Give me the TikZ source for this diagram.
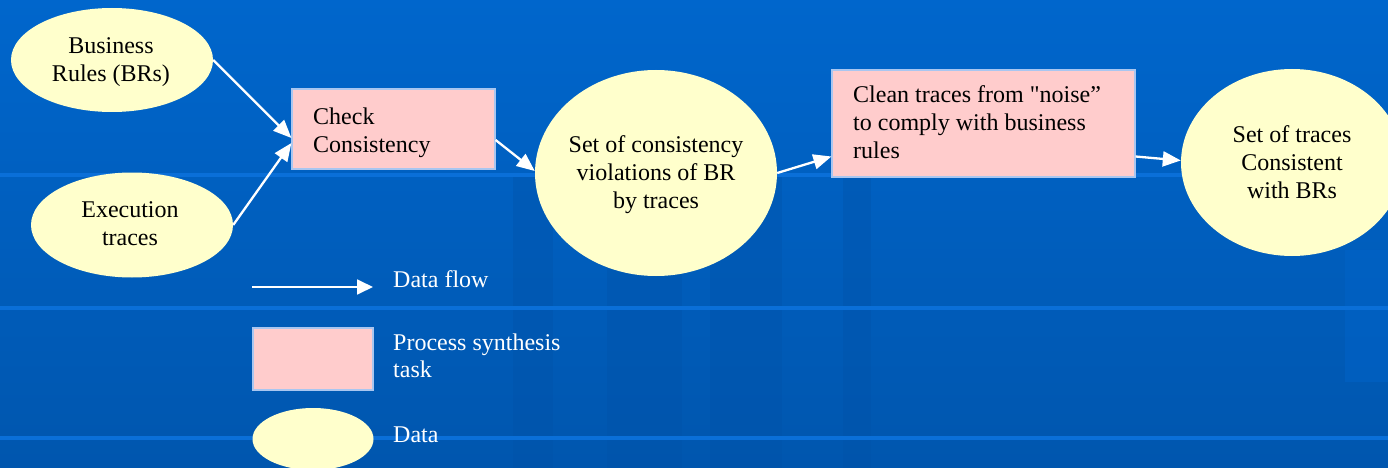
\documentclass[tikz,border=0pt]{standalone}
\usepackage{fontspec}
\setmainfont{Liberation Serif}
\newfontfamily\nomapfont{Liberation Serif}[Ligatures=TeXOff]
\usetikzlibrary{shapes.geometric,arrows.meta,calc}
\definecolor{bgtop}{HTML}{0066CC}
\definecolor{bgbot}{HTML}{0056AE}
\definecolor{hline}{HTML}{0A6FD8}
\definecolor{vdark}{HTML}{0052A8}
\definecolor{vlight}{HTML}{0062C6}
\definecolor{procfill}{HTML}{FFCCCC}
\definecolor{datafill}{HTML}{FFFFCC}
\definecolor{boxline}{HTML}{A9C6F0}
\begin{document}
\begin{tikzpicture}[x=1pt,y=-1pt,
  proc/.style={draw=boxline,line width=1.2pt,fill=procfill,inner sep=0pt},
  datum/.style={ellipse,fill=datafill,inner sep=0pt},
  lbl/.style={font=\fontsize{24}{28}\selectfont,text=black,inner sep=0pt},
  leglbl/.style={font=\fontsize{24}{27}\selectfont,text=white,inner sep=0pt,align=left},
  flow/.style={draw=white,line width=2.3pt,-{Triangle[length=18pt,width=15pt]}},
  legflow/.style={draw=white,line width=1.8pt,-{Triangle[length=16pt,width=15pt]}}
]
\useasboundingbox (0,0) rectangle (1388,468);
\clip (0,0) rectangle (1388,468);
% background
\shade[top color=bgtop,bottom color=bgbot] (0,0) rectangle (1388,468);
\fill[vdark,opacity=0.35] (513,176) rectangle (553,468);
\fill[vdark,opacity=0.35] (607,176) rectangle (682,468);
\fill[vdark,opacity=0.35] (710,176) rectangle (782,468);
\fill[vdark,opacity=0.35] (843,176) rectangle (871,468);
\fill[vlight,opacity=0.6] (1345,250) rectangle (1388,382);
\fill[hline] (0,173) rectangle (1388,177);
\fill[hline] (0,306) rectangle (1388,310);
\fill[hline] (0,436) rectangle (1388,440);

% process boxes
\node[proc,minimum width=203pt,minimum height=80pt] (check) at (393.5,129) {};
\node[lbl,align=left,anchor=west] (checkt) at (313,133) {Check\\Consistency};
\node[proc,minimum width=303pt,minimum height=107pt] (clean) at (983.5,123.5) {};
\node[lbl,align=left,anchor=west] (cleant) at (853,122.5) {Clean traces from {\nomapfont"}noise”\\to comply with business\\rules};

% data ellipses
\node[datum,minimum width=202pt,minimum height=104pt] (br) at (112,60) {};
\node[lbl,align=center] (brt) at (111,62.5) {Business\\Rules (BRs)};
\node[datum,minimum width=202pt,minimum height=105pt] (exec) at (132,225) {};
\node[lbl,align=center] (exect) at (130,224) {Execution\\traces};
\node[datum,minimum width=242pt,minimum height=206pt] (viol) at (656,173) {};
\node[lbl,align=center] (violt) at (656,175) {Set of consistency\\violations of BR\\by traces};
\node[datum,minimum width=222pt,minimum height=187pt] (cons) at (1292,162.5) {};
\node[lbl,align=center] (const) at (1292,162) {Set of traces\\Consistent\\with BRs};

% flows
\draw[flow] (br.east) -- ($(check.west)+(0,9)$);
\draw[flow] (exec.east) -- ($(check.west)+(0,14)$);
\draw[flow] ($(check.east)+(0,11)$) -- ($(viol.west)+(0,-2)$);
\draw[flow] (viol.east) -- ($(clean.west)+(0,33)$);
\draw[flow] ($(clean.east)+(0,33)$) -- ($(cons.west)+(0,-2)$);

% legend
\coordinate (lfa) at (252,287);
\coordinate (lfb) at (373,287);
\draw[legflow] (lfa) -- (lfb);
\node[leglbl,anchor=base west] (lft) at (393,287) {Data flow};
\node[proc,minimum width=120pt,minimum height=62pt] (lproc) at (313,359) {};
\node[leglbl,anchor=west] (lpt) at (393,355.5) {Process synthesis\\task};
\node[datum,minimum width=121pt,minimum height=62pt] (ldata) at (313,439) {};
\node[leglbl,anchor=base west] (ldt) at (393,442) {Data};
\end{tikzpicture}
\end{document}
